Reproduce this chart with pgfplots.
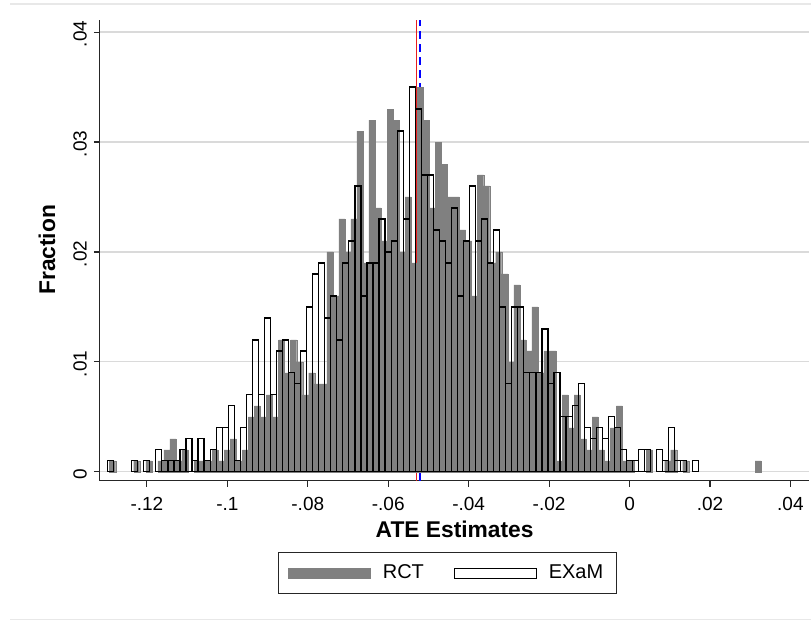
\documentclass[border=0pt]{standalone}
\usepackage{fontspec}
\setmainfont{Liberation Sans}
\usepackage{pgfplots}
\pgfplotsset{compat=1.18}
\definecolor{rctgray}{RGB}{128,128,128}
\definecolor{gridgray}{RGB}{218,218,218}
\definecolor{framegray}{RGB}{232,232,232}
\definecolor{redline}{RGB}{235,30,30}
\definecolor{blueline}{RGB}{0,0,255}
\begin{document}
\begin{tikzpicture}
\begin{axis}[
  scale only axis, width=355pt, height=230.5pt,
  xmin=-0.13168, xmax=0.04472, ymin=-0.0008, ymax=0.0411,
  axis x line*=bottom, axis y line*=left,
  axis line style={black!85, line width=0.55pt},
  xtick={-0.12,-0.1,-0.08,-0.06,-0.04,-0.02,0,0.02,0.04},
  xticklabels={-.12,-.1,-.08,-.06,-.04,-.02,0,.02,.04},
  ytick={0,0.01,0.02,0.03,0.04},
  yticklabels={0,.01,.02,.03,.04},
  scaled ticks=false,
  tick align=outside, major tick length=3pt,
  tick style={black!85, line width=0.55pt},
  ymajorgrids, grid style={gridgray, line width=0.6pt},
  ticklabel style={font=\fontsize{9.5}{11}\selectfont},
  xticklabel style={yshift=-2pt},
  yticklabel style={rotate=90, anchor=south, xshift=-1pt},
  xlabel={\bfseries ATE Estimates}, ylabel={\bfseries Fraction},
  label style={font=\fontsize{11.4}{13}\selectfont},
  xlabel style={at={(axis description cs:0.5,-0.106)}, anchor=center},
  ylabel style={at={(axis description cs:-0.0746,0.501)}, anchor=center, rotate=0},
  legend image code/.code={\draw[#1] (0pt,-2.5pt) rectangle (41pt,2.5pt);},
  legend style={at={(axis description cs:0.490,-0.2007)}, anchor=center,
    draw=black!85, line width=0.5pt, legend columns=2,
    font=\fontsize{10}{12}\selectfont,
    inner xsep=4.5pt, inner ysep=4pt,
    /tikz/every odd column/.append style={column sep=4pt},
    /tikz/every even column/.append style={column sep=13pt}},
  after end axis/.code={
    \coordinate (BL) at (rel axis cs:-0.14085,-0.31020);
    \coordinate (TR) at (rel axis cs:1.00282,1.04338);
    \coordinate (T1) at (rel axis cs:-0.12676,1.03471);
    \coordinate (B1) at (rel axis cs:-0.12676,-0.30152);
  },
]
% mean lines (drawn first, bars cover them)
\addplot[draw=redline, line width=0.75pt, forget plot] coordinates {(-0.05296,-0.0008) (-0.05296,0.0411)};
\addplot[draw=blueline, line width=0.9pt, dash pattern=on 4pt off 2.5pt, forget plot] coordinates {(-0.05215,-0.0008) (-0.05215,0.0411)};
% RCT
\addplot[ybar, bar width=0.0015, bar shift=0pt, fill=rctgray, draw=rctgray, line width=0.1pt, forget plot] table {
x y
-0.12853 0.001
-0.12253 0.001
-0.11953 0.001
-0.11653 0.001
-0.11503 0.002
-0.11353 0.003
-0.11203 0.001
-0.11053 0.002
-0.10753 0.001
-0.10603 0.001
-0.10453 0.001
-0.10303 0.002
-0.10153 0.001
-0.10003 0.002
-0.09853 0.003
-0.09703 0.001
-0.09553 0.002
-0.09403 0.005
-0.09253 0.006
-0.09103 0.005
-0.08953 0.007
-0.08803 0.005
-0.08653 0.012
-0.08503 0.009
-0.08353 0.012
-0.08203 0.010
-0.08053 0.007
-0.07903 0.009
-0.07753 0.008
-0.07603 0.008
-0.07453 0.020
-0.07303 0.016
-0.07153 0.023
-0.07003 0.020
-0.06853 0.023
-0.06703 0.031
-0.06553 0.019
-0.06403 0.032
-0.06253 0.024
-0.06103 0.021
-0.05953 0.033
-0.05803 0.032
-0.05653 0.020
-0.05503 0.025
-0.05353 0.019
-0.05203 0.035
-0.05053 0.032
-0.04903 0.024
-0.04753 0.030
-0.04603 0.028
-0.04453 0.025
-0.04303 0.025
-0.04153 0.022
-0.04003 0.021
-0.03853 0.016
-0.03703 0.027
-0.03553 0.026
-0.03403 0.019
-0.03253 0.020
-0.03103 0.018
-0.02953 0.010
-0.02803 0.017
-0.02653 0.012
-0.02503 0.011
-0.02353 0.015
-0.02203 0.009
-0.02053 0.011
-0.01903 0.011
-0.01753 0.001
-0.01603 0.007
-0.01453 0.004
-0.01303 0.007
-0.01153 0.003
-0.01003 0.002
-0.00853 0.005
-0.00703 0.002
-0.00553 0.001
-0.00403 0.004
-0.00253 0.006
-0.00103 0.001
0.00047 0.001
0.00497 0.002
0.00947 0.001
0.01097 0.002
0.01397 0.001
0.03197 0.001
};
% EXaM
\addplot[ybar, bar width=0.0015, bar shift=0pt, fill=none, draw=black, line width=0.6pt, forget plot] table {
x y
-0.12903 0.001
-0.12303 0.001
-0.12003 0.001
-0.11703 0.002
-0.11553 0.001
-0.11403 0.001
-0.11253 0.001
-0.11103 0.002
-0.10953 0.003
-0.10803 0.001
-0.10653 0.003
-0.10503 0.001
-0.10353 0.002
-0.10203 0.004
-0.10053 0.004
-0.09903 0.006
-0.09753 0.001
-0.09603 0.004
-0.09453 0.007
-0.09303 0.012
-0.09153 0.007
-0.09003 0.014
-0.08853 0.007
-0.08703 0.011
-0.08553 0.012
-0.08403 0.009
-0.08253 0.008
-0.08103 0.011
-0.07953 0.015
-0.07803 0.018
-0.07653 0.019
-0.07503 0.014
-0.07353 0.016
-0.07203 0.012
-0.07053 0.019
-0.06903 0.021
-0.06753 0.026
-0.06603 0.016
-0.06453 0.019
-0.06303 0.019
-0.06153 0.023
-0.06003 0.020
-0.05853 0.021
-0.05703 0.031
-0.05553 0.023
-0.05403 0.035
-0.05253 0.033
-0.05103 0.027
-0.04953 0.027
-0.04803 0.022
-0.04653 0.021
-0.04503 0.019
-0.04353 0.024
-0.04203 0.016
-0.04053 0.021
-0.03903 0.026
-0.03753 0.021
-0.03603 0.023
-0.03453 0.019
-0.03303 0.022
-0.03153 0.015
-0.03003 0.008
-0.02853 0.015
-0.02703 0.015
-0.02553 0.009
-0.02403 0.009
-0.02253 0.009
-0.02103 0.013
-0.01953 0.008
-0.01803 0.009
-0.01653 0.005
-0.01503 0.005
-0.01353 0.006
-0.01203 0.008
-0.01053 0.004
-0.00903 0.003
-0.00753 0.004
-0.00603 0.003
-0.00453 0.005
-0.00303 0.004
-0.00153 0.002
-0.00003 0.001
0.00147 0.001
0.00297 0.002
0.00447 0.002
0.00747 0.002
0.00897 0.001
0.01047 0.004
0.01197 0.001
0.01347 0.001
0.01647 0.001
};
\addlegendimage{fill=rctgray, draw=rctgray}
\addlegendentry{RCT}
\addlegendimage{fill=none, draw=black, line width=0.5pt}
\addlegendentry{EXaM}
\end{axis}
\draw[framegray, line width=0.6pt] (T1) -- (T1 -| TR);
\draw[framegray, line width=0.6pt] (B1) -- (B1 -| TR);
\path (BL) rectangle (TR);
\end{tikzpicture}
\end{document}
